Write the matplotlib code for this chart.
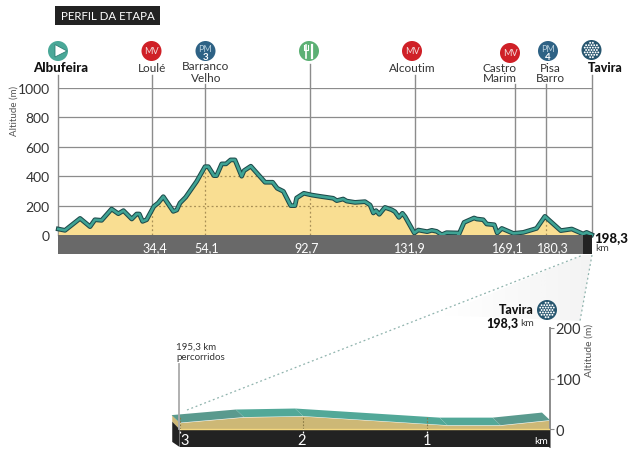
"""Stage profile (Volta ao Algarve style) with a zoomed detail of the last 3 km."""
import matplotlib

matplotlib.use("Agg")

import matplotlib.pyplot as plt
import numpy as np
from matplotlib.patches import Circle, Polygon, Rectangle

plt.rcParams["font.family"] = ["Lato", "DejaVu Sans"]

# main profile
profile_km = [0.1, 2.6, 8.2, 11.9, 13.7, 16.2, 19.9, 22.4, 24.3, 27.4, 29.2, 30.2, 31.4, 32.9,
              35.6, 37.2, 39.1, 42.8, 44.1, 45.3, 47.4, 51.5, 54.6, 55.8, 57.9, 58.9, 60.8,
              62.4, 64.1, 65.7, 68.2, 69.1, 71.6, 76.9, 79.7, 81.4, 83.7, 86.4, 88.0, 88.6,
              91.3, 94.2, 97.3, 102.2, 103.5, 105.9, 107.2, 110.3, 114.0, 115.9, 117.1,
              118.1, 119.3, 121.4, 123.9, 125.1, 126.6, 127.9, 128.9, 132.3, 133.8, 137.1,
              138.8, 140.6, 142.5, 144.3, 148.3, 148.8, 150.8, 154.5, 155.5, 157.9, 159.2,
              162.0, 163.1, 164.8, 169.1, 172.8, 177.7, 180.8, 186.7, 190.8, 195.0, 196.3,
              198.2]
profile_alt = [41, 32, 113, 57, 104, 100, 177, 145, 166, 109, 143, 143, 93, 104,
               195, 218, 261, 161, 170, 218, 257, 365, 465, 465, 404, 404, 484,
               484, 511, 511, 400, 438, 468, 359, 359, 318, 297, 200, 200, 252,
               284, 272, 263, 250, 234, 245, 231, 222, 227, 204, 150,
               166, 141, 188, 172, 159, 120, 148, 125, 14, 34, 23,
               32, 25, 2, 16, 14, 2, 86, 116, 109, 104, 75,
               70, 14, 45, 11, 18, 45, 127, 30, 41, 7, 18,
               2]

alt_ticks = [0, 200, 400, 600, 800, 1000]
mark_km = [0, 34.9, 54.6, 93.4, 132.6, 169.7, 181.2, 198.3]
mark_top_px = [76, 76, 85, 65, 76, 85, 85, 76]
km_labels = ["34,4", "54,1", "92,7", "131,9", "169,1", "180,3"]
km_label_px = [155, 207, 307, 410, 508, 553]

# detail of the final kilometres
detail_km = [3.0, 2.48, 2.0, 0.83, 0.4, 0.0]
detail_alt = [13, 24, 26, 8, 8, 18]
detail_ticks = [0, 100, 200]
detail_km_ticks = [3, 2, 1]
detail_label_km = [2.96, 2.01, 1.0]

TEAL = "#3fa394"
FILL = "#f9de92"
GREY = "#8c8c8c"
TEXT = "#333333"


def px_axes(fig, left, top, right, bottom):
    return fig.add_axes([left / 630, 1 - bottom / 460, (right - left) / 630, (bottom - top) / 460])


fig = plt.figure(figsize=(6.3, 4.6), dpi=100)

# --- main profile ---
ax = px_axes(fig, 58, 89, 592, 255)
ax.set_xlim(0, 198.3)
ax.set_ylim(-129, 1000)
for s in ax.spines.values():
    s.set_visible(False)
ax.set_xticks([])
ax.set_yticks(alt_ticks)
ax.tick_params(axis="y", length=0, pad=6, labelsize=10, labelcolor=TEXT)
ax.set_ylabel("Altitude (m)", fontsize=7, color="#555555")
ax.yaxis.set_label_coords(-0.073, 0.867)

ax.hlines(alt_ticks, 0, 198.3, color=GREY, lw=0.9, zorder=1)
for km, top in zip(mark_km, mark_top_px):
    ax.plot([km, km], [0, (236 - top) / 0.147], color=GREY, lw=1.0, zorder=1, clip_on=False)

poly = ax.fill_between(profile_km, 0, profile_alt, color=FILL, lw=0, zorder=2)
clip = poly.get_paths()[0]
for level in (200, 400):
    ln, = ax.plot([0, 198.3], [level, level], color="#a98f55", lw=0.9, ls=(0, (1.5, 2)), zorder=3)
    ln.set_clip_path(clip, ax.transData)
for km in mark_km[1:7]:
    ln, = ax.plot([km, km], [0, 600], color="#a98f55", lw=0.9, ls=(0, (1.5, 2)), zorder=3)
    ln.set_clip_path(clip, ax.transData)

ax.plot(profile_km, profile_alt, color="#1d4a4a", lw=3.4, zorder=4, clip_on=False, solid_joinstyle="round")
ax.plot(profile_km, profile_alt, color=TEAL, lw=1.9, zorder=5, clip_on=False, solid_joinstyle="round")
ax.axhspan(-129, 0, color="#696969", lw=0, zorder=6)
ax.fill_between([194.9, 198.3], -129, 0, color="#222222", lw=0, zorder=7)

# --- detail of last 3 km ---
ad = px_axes(fig, 171, 329, 550, 448)
ad.set_xlim(3.07, 0)
ad.set_ylim(-35, 200)
ad.patch.set_visible(False)
for name in ("top", "left", "bottom"):
    ad.spines[name].set_visible(False)
ad.yaxis.tick_right()
ad.spines["right"].set_color(GREY)
ad.spines["right"].set_linewidth(1.4)
ad.set_xticks([])
ad.set_yticks(detail_ticks)
ad.tick_params(axis="y", length=3, width=0.8, color=GREY, pad=1, labelsize=10.5, labelcolor=TEXT)
ad.set_ylabel("Altitude (m)", fontsize=7.5, color="#555555")
ad.yaxis.set_label_position("right")
ad.yaxis.set_label_coords(1.09, 0.82)

ad.fill_between(detail_km, 0, detail_alt, color="#cdb876", lw=0, zorder=2)
ad.add_patch(Polygon([(3.06, detail_alt[0] + 15), (3.0, detail_alt[0]), (3.0, 0), (3.06, 15)],
                     color="#cdb876", lw=0, zorder=2))
# the ribbon on top of the profile; two stretches sit in shade
seg_colors = ["#5a9a8e", "#52a898", "#52a898", "#52a898", "#5a9a8e"]
for i, col in enumerate(seg_colors):
    k0, k1 = detail_km[i], detail_km[i + 1]
    a0, a1 = detail_alt[i], detail_alt[i + 1]
    ad.add_patch(Polygon([(k0, a0), (k1, a1), (k1 + 0.065, a1 + 15), (k0 + 0.065, a0 + 15)],
                         color=col, lw=0, zorder=3))
ad.fill_between([3.0, 0], -35, 0, color="#222222", lw=0, zorder=4)
ad.add_patch(Polygon([(3.06, 15), (3.0, 0), (3.0, -35), (3.06, -25)], color="#222222", lw=0, zorder=4))
ad.plot([3.0, 0], [0, 0], color="#f2d67f", lw=1.0, zorder=5)
for km, lab_km in zip(detail_km_ticks, detail_label_km):
    ad.text(lab_km, -22, str(km), color="white", fontsize=10.5, ha="center", va="center", zorder=6)
    ad.plot([km, km], [-7, 0], color="white", lw=0.9, ls=(0, (1.5, 1.5)), zorder=6)
    ad.plot([km, km], [0, 24], color="#8a7a45", lw=0.8, ls=(0, (1.5, 1.5)), zorder=3.5)
ad.text(0.02, -22, "km", color="white", fontsize=7.5, ha="right", va="center", zorder=6)

# --- pixel overlay: title, icons, names, zoom guide ---
ov = fig.add_axes([0, 0, 1, 1], zorder=10)
ov.set_xlim(0, 630)
ov.set_ylim(460, 0)
ov.axis("off")
ov.patch.set_visible(False)

ov.add_patch(Rectangle((55, 7), 105, 18.5, color="#222222", lw=0))
ov.text(107.5, 16.5, "PERFIL DA ETAPA", color="white", fontsize=8.3, ha="center", va="center")

# zoom guide: a pale wedge fading to the left, dotted edges
wedge = Polygon([(583, 256), (592, 256), (580, 322), (440, 316)], transform=ov.transData, lw=0, fc="none")
ov.add_patch(wedge)
grad = np.linspace(0, 1, 100).reshape(1, -1)
img = ov.imshow(grad, extent=(440, 592, 322, 256), cmap="Greys", vmin=0, vmax=10, aspect="auto", zorder=0.5)
img.set_clip_path(wedge)
ov.set_xlim(0, 630)
ov.set_ylim(460, 0)
ov.plot([187, 583], [411, 256], color="#8fb3ad", lw=0.9, ls=(0, (1.5, 2.2)))
ov.plot([592, 580], [256, 322], color="#8fb3ad", lw=0.9, ls=(0, (1.5, 2.2)))


def badge(x, y, color, text=None, num=None, r=10):
    ov.add_patch(Circle((x, y), r, color=color, lw=0, zorder=11))
    if text:
        ov.text(x, y - (2.5 if num else 0), text, color="#f3d9d9" if num is None else "#b8d0de",
                fontsize=6.5, ha="center", va="center", zorder=12)
    if num:
        ov.text(x, y + 5.5, num, color="white", fontsize=7, fontweight="bold",
                ha="center", va="center", zorder=12)


def checker(x, y, r=10):
    ov.add_patch(Circle((x, y), r, color="#27566f", lw=0, zorder=11))
    for row in range(-3, 4):
        for col in range(-3, 4):
            dx = col * 2.7 + (1.35 if row % 2 else 0)
            dy = row * 2.4
            if dx * dx + dy * dy < (r - 2.5) ** 2:
                ov.add_patch(Circle((x + dx, y + dy), 0.95, color="white", lw=0, zorder=12))


badge(58, 52, "#4aa898")
ov.add_patch(Polygon([(55, 45.5), (55, 58), (67, 52)], fc="white", ec="#2f7f75", lw=0.6, zorder=12))
badge(151.5, 52, "#cf2027", "MV")
badge(205.5, 52, "#2e6285", "PM", "3")
badge(309, 52, "#5cb074")
# fork and knife
ov.plot([305.5, 305.5], [46, 59], color="white", lw=1.2, zorder=12)
ov.plot([303.5, 303.5, 307.5, 307.5], [46, 51, 51, 46], color="white", lw=0.8, zorder=12)
ov.plot([312, 312], [46, 59], color="white", lw=1.6, zorder=12)
badge(412, 52, "#cf2027", "MV")
badge(510, 54, "#cf2027", "MV")
badge(548, 52, "#2e6285", "PM", "4")
checker(591.5, 51)
checker(547, 311)

names = [("Loulé", 152, 68), ("Barranco", 205.5, 67), ("Velho", 206, 78), ("Alcoutim", 412, 68),
         ("Castro", 500, 68), ("Marim", 500, 78), ("Pisa", 550, 68), ("Barro", 550, 78)]
for txt, x, y in names:
    ov.text(x, y, txt, color=TEXT, fontsize=8.5, ha="center", va="center")
ov.text(61, 68, "Albufeira", color="#111111", fontsize=9.5, fontweight="black", ha="center", va="center")
ov.text(605, 68, "Tavira", color="#111111", fontsize=9, fontweight="black", ha="center", va="center")

for txt, x in zip(km_labels, km_label_px):
    ov.text(x, 248, txt, color="white", fontsize=9, ha="center", va="center")
ov.text(594, 238.5, "198,3", color="#111111", fontsize=9.5, fontweight="black", ha="left", va="center")
ov.text(595, 249, "km", color="#444444", fontsize=7.5, ha="left", va="center")

ov.text(534, 310, "Tavira", color="#111111", fontsize=9, fontweight="black", ha="right", va="center")
ov.text(518, 323, "198,3", color="#111111", fontsize=9, fontweight="black", ha="right", va="center")
ov.text(520, 323.5, "km", color="#444444", fontsize=7.5, ha="left", va="center")

ov.plot([179, 179], [365, 430], color="#aaaaaa", lw=1.3, zorder=11)
ov.text(176.5, 347, "195,3 km", color=TEXT, fontsize=7, ha="left", va="center")
ov.text(176.5, 358, "percorridos", color=TEXT, fontsize=7, ha="left", va="center")

fig.savefig("out.png", dpi=100)
